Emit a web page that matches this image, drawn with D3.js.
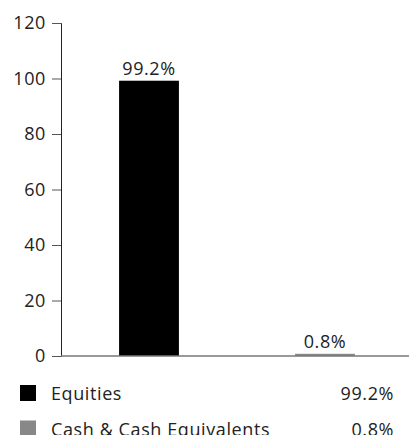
<!DOCTYPE html>
<html>
<head>
<meta charset="utf-8">
<script src="https://cdn.jsdelivr.net/npm/d3@7"></script>
<style>
  body { margin: 0; background: #fff; }
  text { font-family: 'Open Sans', sans-serif; fill: #222; letter-spacing: 0.6px; }
</style>
</head>
<body>
<div id="chart"></div>
<script>
const categories = ['Equities', 'Cash & Cash Equivalents'];
const values = [99.2, 0.8];
const valueLabels = ['99.2%', '0.8%'];
const barColors = ['#000000', '#888888'];
const yTicks = [0, 20, 40, 60, 80, 100, 120];

const width = 409;
const height = 435;

const svg = d3
  .select('#chart')
  .append('svg')
  .attr('width', width)
  .attr('height', height);

const xScale = d3
  .scaleBand()
  .domain(categories)
  .range([61, 413])
  .paddingInner(0.66)
  .paddingOuter(0.33);

const yScale = d3.scaleLinear().domain([0, 120]).range([356, 23]);

// y axis
const gy = svg.append('g').attr('transform', 'translate(61,0)');
gy.call(
  d3.axisLeft(yScale).tickValues(yTicks).tickSizeInner(9).tickSizeOuter(9).tickPadding(6),
);
gy.selectAll('text').style('font-size', '18px').attr('fill', '#222').attr('font-family', null);
gy.selectAll('.tick line').attr('stroke', '#555');
gy.select('.domain').attr('stroke', '#222');

// bars
svg
  .selectAll('rect.bar')
  .data(categories)
  .join('rect')
  .attr('class', 'bar')
  .attr('x', (d) => xScale(d))
  .attr('width', xScale.bandwidth())
  .attr('y', (d, i) => yScale(values[i]))
  .attr('height', (d, i) => yScale(0) - yScale(values[i]))
  .attr('fill', (d, i) => barColors[i]);

// x axis line
svg
  .append('line')
  .attr('x1', 61)
  .attr('x2', width)
  .attr('y1', yScale(0))
  .attr('y2', yScale(0))
  .attr('stroke', '#777')
  .attr('stroke-width', 1.5);

// value labels
svg
  .selectAll('text.val')
  .data(categories)
  .join('text')
  .attr('class', 'val')
  .attr('x', (d) => xScale(d) + xScale.bandwidth() / 2)
  .attr('y', (d, i) => yScale(values[i]) - 6)
  .attr('text-anchor', 'middle')
  .style('font-size', '18px')
  .text((d, i) => valueLabels[i]);

// legend
const legend = svg
  .selectAll('g.legend')
  .data(categories)
  .join('g')
  .attr('class', 'legend')
  .attr('transform', (d, i) => `translate(20,${385 + i * 35.5})`);

legend
  .append('rect')
  .attr('width', 16)
  .attr('height', 16)
  .attr('fill', (d, i) => barColors[i]);

legend
  .append('text')
  .attr('x', 31)
  .attr('y', 15)
  .style('font-size', '18px')
  .text((d) => d);

legend
  .append('text')
  .attr('x', 374)
  .attr('y', 15)
  .attr('text-anchor', 'end')
  .style('font-size', '18px')
  .text((d, i) => valueLabels[i]);
</script>
</body>
</html>
